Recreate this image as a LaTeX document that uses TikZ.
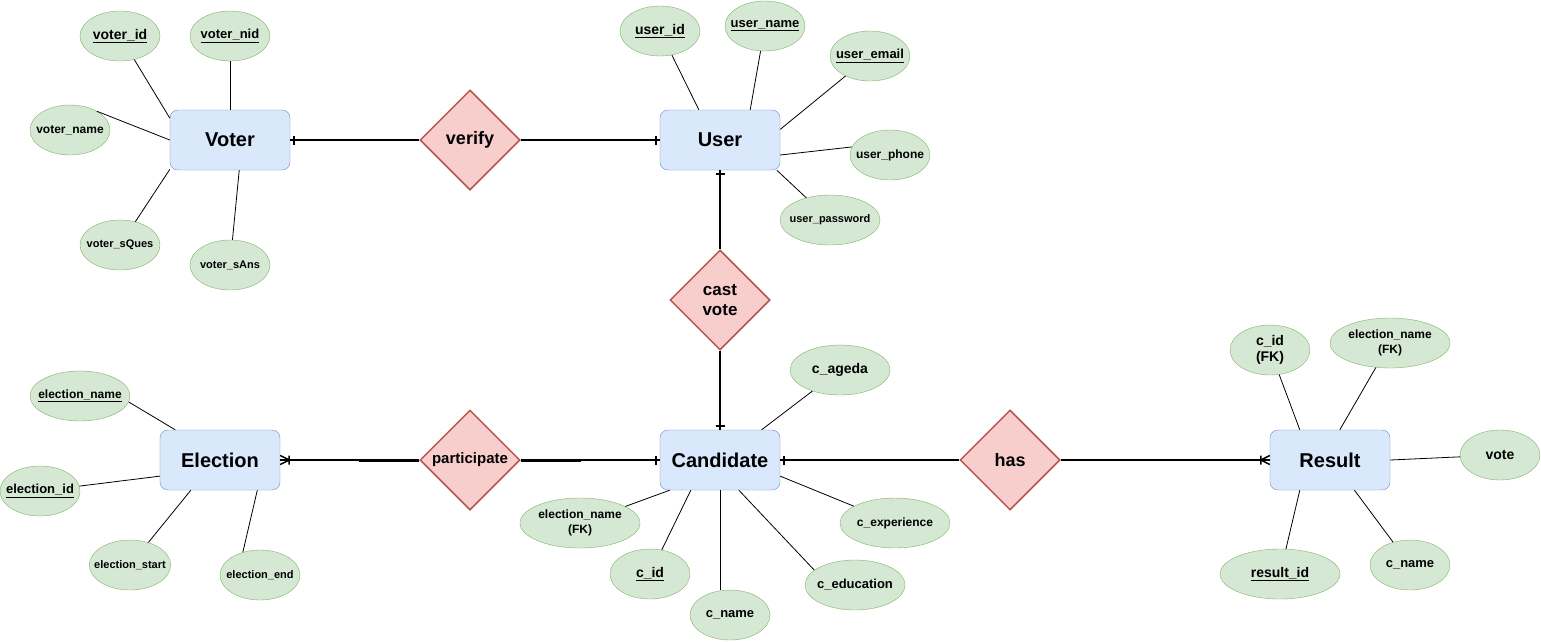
\documentclass[tikz,border=0pt]{standalone}
\usepackage{fontspec}
\setmainfont{Liberation Sans}
\usetikzlibrary{shapes.geometric,decorations.markings}

\definecolor{entfill}{HTML}{DAE8FC}
\definecolor{entdraw}{HTML}{6C8EBF}
\definecolor{relfill}{HTML}{F8CECC}
\definecolor{reldraw}{HTML}{B85450}
\definecolor{attfill}{HTML}{D5E8D4}
\definecolor{attdraw}{HTML}{82B366}

\tikzset{
  entity/.style={rectangle, rounded corners=8pt, draw=entdraw, fill=entfill,
    minimum width=120pt, minimum height=60pt,
    font=\fontsize{20}{24}\selectfont\bfseries},
  relation/.style={diamond, aspect=1, draw=reldraw, fill=relfill, line width=1.5pt,
    minimum width=100pt, minimum height=100pt, inner sep=0pt, align=center,
    font=\fontsize{18}{20}\selectfont\bfseries},
  attr/.style={ellipse, draw=attdraw, fill=attfill, minimum width=80pt,
    minimum height=50pt, inner xsep=-7pt, inner ysep=0pt, align=center,
    font=\fontsize{12}{15}\selectfont\bfseries},
  f11/.style={font=\fontsize{11}{13}\selectfont\bfseries},
  f13/.style={font=\fontsize{13}{15}\selectfont\bfseries},
  f14/.style={font=\fontsize{14}{16}\selectfont\bfseries},
  link/.style={line width=1.5pt},
  prop/.style={line width=0.8pt},
  one/.style={postaction={decorate, decoration={markings,
    mark=at position -4pt with {\draw[line width=1.5pt] (0,-4.5pt) -- (0,4.5pt);}}}},
  many/.style={postaction={decorate, decoration={markings,
    mark=at position -9pt with {\draw[line width=1.5pt] (0,-4.5pt) -- (0,4.5pt)
      (0,0) -- (9pt,4.5pt) (0,0) -- (9pt,-4.5pt);}}}}
}

\begin{document}
\begin{tikzpicture}[x=1pt,y=-1pt]

  \fill[white] (0,0) rectangle (1541,641);
  \useasboundingbox (0,0) rectangle (1541,641);

  % entities
  \node[entity] (voter) at (230,140) {Voter};
  \node[entity] (user) at (720,140) {User};
  \node[entity] (election) at (220,460) {Election};
  \node[entity] (candidate) at (720,460) {Candidate};
  \node[entity] (result) at (1330,460) {Result};

  % relations
  \node[relation] (verify) at (470,140) {verify};
  \node[relation, font=\fontsize{17}{20}\selectfont\bfseries] (castvote) at (720,300) {cast\\vote};
  \node[relation, font=\fontsize{15}{18}\selectfont\bfseries] (participate) at (470,460) {participate};
  \node[relation] (has) at (1010,460) {has};

  % voter attributes
  \node[attr, f14] (voterid) at (120,36) {\underline{voter\_id}};
  \node[attr, f13] (voternid) at (230,36) {\underline{voter\_nid}};
  \node[attr] (votername) at (70,130) {voter\_name};
  \node[attr, f11] (votersques) at (120,245) {voter\_sQues};
  \node[attr, f11] (votersans) at (230,265) {voter\_sAns};

  % user attributes
  \node[attr, f14] (userid) at (660,31) {\underline{user\_id}};
  \node[attr, f13] (username) at (765,26) {\underline{user\_name}};
  \node[attr, f13] (useremail) at (870,56) {\underline{user\_email}};
  \node[attr] (userphone) at (890,155) {user\_phone};
  \node[attr, f11, minimum width=100pt] (userpassword) at (830,220) {user\_password};

  % election attributes
  \node[attr, minimum width=100pt] (elecname) at (80,396) {\underline{election\_name}};
  \node[attr, f13] (elecid) at (40,491) {\underline{election\_id}};
  \node[attr, f11] (elecstart) at (130,565) {election\_start};
  \node[attr, f11] (elecend) at (260,575) {election\_end};

  % candidate attributes
  \node[attr, f14, minimum width=100pt] (cageda) at (840,370) {c\_ageda};
  \node[attr, minimum width=120pt] (cfkname) at (580,523) {election\_name\\(FK)};
  \node[attr, f14] (cid) at (650,574) {\underline{c\_id}};
  \node[attr, f13] (cname) at (730,615) {c\_name};
  \node[attr, f13, minimum width=100pt] (ceducation) at (855,585) {c\_education};
  \node[attr, minimum width=110pt] (cexperience) at (895,523) {c\_experience};

  % result attributes
  \node[attr, f14] (rcid) at (1270,350) {c\_id\\(FK)};
  \node[attr, minimum width=120pt] (rfkname) at (1390,343) {election\_name\\(FK)};
  \node[attr, f14] (rvote) at (1500,455) {vote};
  \node[attr, f14, minimum width=120pt] (rid) at (1280,574) {\underline{result\_id}};
  \node[attr, f13] (rcname) at (1410,565) {c\_name};

  % relation connectors
  \draw[link, one] (verify) -- (voter);
  \draw[link, one] (verify) -- (user);
  \draw[link, one] (castvote) -- (user);
  \draw[link, one] (castvote) -- (candidate);
  \draw[link, many] (participate) -- (election);
  \draw[link, one] (participate) -- (candidate);
  \draw[line width=3pt] (participate.west) -- ++(-60pt,0);
  \draw[line width=3pt] (participate.east) -- ++(60pt,0);
  \draw[link, one] (has) -- (candidate);
  \draw[link, many] (has) -- (result);

  % attribute connectors
  \draw[prop] (voterid) -- (voter.160);
  \draw[prop] (voternid) -- (voter.north);
  \draw[prop] (votername.35) -- (voter.west);
  \draw[prop] (votersques) -- (voter.206);
  \draw[prop] (votersans) -- (voter.287);

  \draw[prop] (userid) -- (user.125);
  \draw[prop] (username) -- (user.45);
  \draw[prop] (useremail) -- (user.10);
  \draw[prop] (userphone.168) -- (user.-14);
  \draw[prop] (userpassword) -- (user.-28);

  \draw[prop] (elecname.-7) -- (election.146);
  \draw[prop] (elecid) -- (election.195);
  \draw[prop] (elecstart) -- (election.226);
  \draw[prop] (elecend.127) -- (election.-39);

  \draw[prop] (cageda) -- (candidate.36);
  \draw[prop] (cfkname) -- (candidate.211);
  \draw[prop] (cid) -- (candidate.226);
  \draw[prop] (candidate.south) -- (candidate.south |- cname.north);
  \draw[prop] (ceducation.160) -- (candidate.-58);
  \draw[prop] (cexperience) -- (candidate.-15);

  \draw[prop] (rcid) -- (result.135);
  \draw[prop] (rfkname) -- (result.72);
  \draw[prop] (rvote) -- (result.east);
  \draw[prop] (rid) -- (result.225);
  \draw[prop] (rcname) -- (result.-51);

\end{tikzpicture}
\end{document}
